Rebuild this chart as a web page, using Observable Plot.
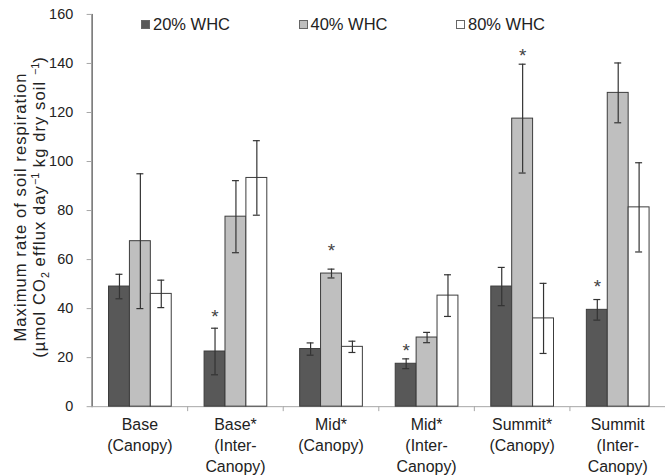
<!DOCTYPE html>
<html>
<head>
<meta charset="utf-8">
<script src="https://cdn.jsdelivr.net/npm/d3@7"></script>
<script src="https://cdn.jsdelivr.net/npm/@observablehq/plot@0.6"></script>
<style>
  html, body { margin: 0; padding: 0; background: #fff; overflow: hidden; }
  #wrap { position: relative; width: 665px; height: 475px; overflow: hidden; font-family: "Liberation Sans", Arial, sans-serif; }
  #legend { position: absolute; top: 15px; left: 141px; display: flex; font-size: 16.5px; color: #222; }
  #legend .item { width: 157.5px; display: flex; align-items: center; white-space: nowrap; }
  #legend .sw { width: 7px; height: 7px; border: 1px solid #666; margin-right: 3px; }
  #ytitle { position: absolute; left: -169px; top: 187px; width: 400px; height: 40px; transform: rotate(-90deg);
            text-align: center; font-size: 16.5px; line-height: 19px; letter-spacing: 1.1px; color: #222; white-space: nowrap; }
  #ytitle sub, #ytitle sup { font-size: 65%; line-height: 0; letter-spacing: 0; }
</style>
</head>
<body>
<div id="wrap"><div id="chart"></div><div id="legend"></div>
<div id="ytitle">Maximum rate of soil respiration<br>(µmol CO<sub>2</sub> efflux day<sup>−1</sup> kg dry soil <sup>−1</sup>)</div></div>
<script>
const categories = ["Base\n(Canopy)", "Base*\n(Inter-\nCanopy)", "Mid*\n(Canopy)", "Mid*\n(Inter-\nCanopy)", "Summit*\n(Canopy)", "Summit\n(Inter-\nCanopy)"];
const series = ["20% WHC", "40% WHC", "80% WHC"];
const colors = ["#585858", "#bfbfbf", "#ffffff"];

const whc20 = [49, 22.5, 23.5, 17.5, 49, 39.5];
const se20  = [5, 9.5, 2.5, 2, 7.8, 4.2];

const whc40 = [67.5, 77.5, 54.3, 28.2, 117.5, 128];
const se40  = [27.5, 14.7, 1.8, 2.1, 22.2, 12.2];

const whc80 = [46, 93.3, 24.4, 45.3, 36, 81.3];
const se80  = [5.6, 15.2, 2.3, 8.5, 14.3, 18.2];

// significance asterisks: [category index, series index, height on the y scale]
const starCat    = [1, 2, 3, 4, 5];
const starSeries = [0, 1, 0, 1, 0];
const starY      = [38.8, 65.4, 24.9, 145.3, 50.9];

const yTicks = [0, 20, 40, 60, 80, 100, 120, 140, 160];

const values = [whc20, whc40, whc80];
const errors = [se20, se40, se80];
const data = [];
categories.forEach((c, i) => series.forEach((s, j) => data.push({
  cat: c, series: s, value: values[j][i], se: errors[j][i]
})));
const stars = starCat.map((ci, k) => ({ cat: categories[ci], series: series[starSeries[k]], y: starY[k] }));

const font = "Liberation Sans, Arial, sans-serif";

const chart = Plot.plot({
  width: 668,
  height: 475,
  marginLeft: 91,
  marginRight: 0,
  marginTop: 14,
  marginBottom: 67,
  style: { fontFamily: font, fontSize: "14.5px", color: "#222", background: "#fff", overflow: "visible" },
  fx: { domain: categories, padding: 0, axis: null },
  x: { domain: series, paddingInner: 0, paddingOuter: 0.735, axis: null },
  y: { domain: [0, 160], axis: "left", line: true, ticks: yTicks, tickSize: 5, tickPadding: 14, label: null, tickFormat: d => String(d) },
  color: { domain: series, range: colors },
  marks: [
    Plot.ruleY([0], { stroke: "#a6a6a6" }),
    Plot.axisFx({ anchor: "bottom", tickSize: 0, tickPadding: 9, fontSize: 16, lineHeight: 1.3, label: null, color: "#222" }),
    Plot.axisFx({ anchor: "bottom", tickSize: 5, tickFormat: () => "", label: null, dx: 48, stroke: "#a6a6a6" }),
    Plot.barY(data, { fx: "cat", x: "series", y: "value", fill: "series", stroke: "#3c3c3c", strokeWidth: 1 }),
    Plot.ruleX(data, { fx: "cat", x: "series", y1: d => d.value - d.se, y2: d => d.value + d.se, stroke: "#333", strokeWidth: 1.2 }),
    Plot.tickY(data, { fx: "cat", x: "series", y: d => d.value - d.se, stroke: "#333", strokeWidth: 1.2, insetLeft: 7, insetRight: 7 }),
    Plot.tickY(data, { fx: "cat", x: "series", y: d => d.value + d.se, stroke: "#333", strokeWidth: 1.2, insetLeft: 7, insetRight: 7 }),
    Plot.text(stars, { fx: "cat", x: "series", y: "y", text: () => "*", fontSize: 19, dy: 5, fill: "#444" })
  ]
});
// soften the y-axis colour to match the light gray axis of the reference
chart.querySelectorAll("[aria-label^='y-axis'] path, [aria-label^='y-axis'] line, [aria-label='frame']").forEach(e => e.setAttribute("stroke", "#a6a6a6"));
document.getElementById("chart").appendChild(chart);

const legend = document.getElementById("legend");
series.forEach((s, j) => {
  const item = document.createElement("div");
  item.className = "item";
  const sw = document.createElement("span");
  sw.className = "sw";
  sw.style.background = colors[j];
  item.appendChild(sw);
  item.appendChild(document.createTextNode(s));
  legend.appendChild(item);
});
</script>
</body>
</html>
